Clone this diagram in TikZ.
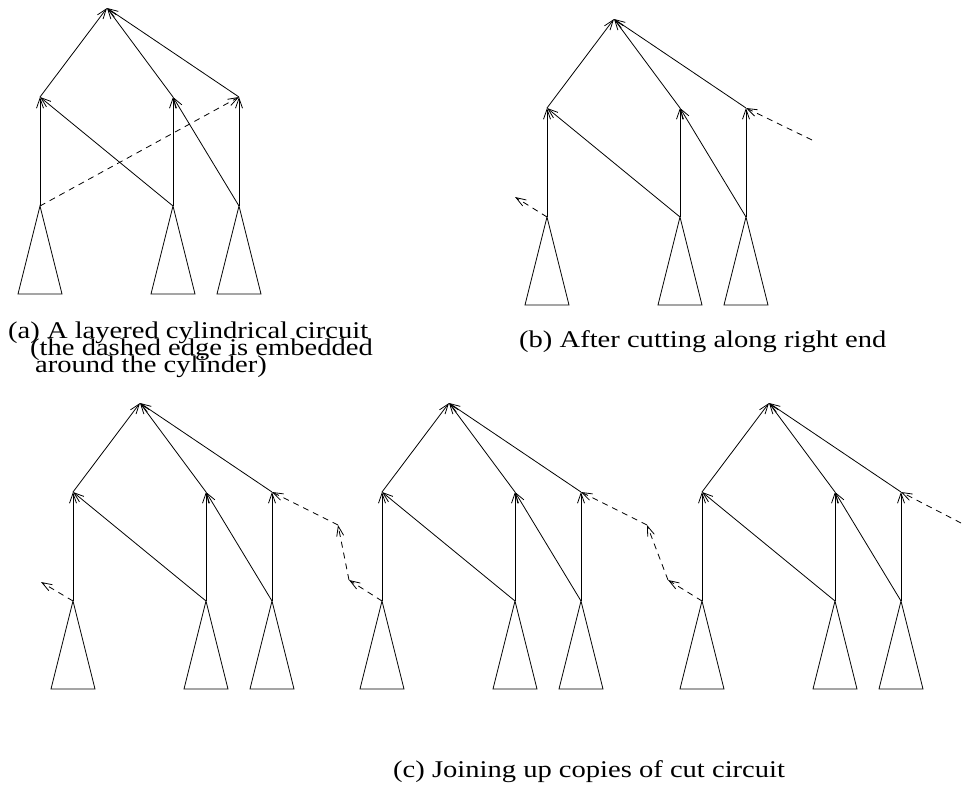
\documentclass[tikz,border=0pt]{standalone}
\usepackage{graphicx}
\usepackage{fontspec}
\setmainfont{Liberation Serif}
\usetikzlibrary{arrows.meta}
\newcommand\widetext[1]{\scalebox{1.19}[1]{#1}}
\tikzset{
  edge/.style={line width=0.8pt, -{Straight Barb[length=10pt,width=7pt]}},
  cutedge/.style={edge, dash pattern=on 6pt off 5pt},
  tri/.style={line width=0.8pt, line join=miter},
  captext/.style={anchor=base west, inner sep=0pt, font=\fontsize{24}{24}\selectfont},
}
\newcommand\mkcircuit[3]{%
  \coordinate (#1-t)  at (#2+67,#3);
  \coordinate (#1-m1) at (#2,#3+89);
  \coordinate (#1-m2) at (#2+133,#3+89);
  \coordinate (#1-m3) at (#2+199,#3+89);
  \coordinate (#1-b1) at (#2,#3+198);
  \coordinate (#1-b2) at (#2+133,#3+198);
  \coordinate (#1-b3) at (#2+199,#3+198);
  \draw[edge] (#1-m1) -- (#1-t);
  \draw[edge] (#1-m2) -- (#1-t);
  \draw[edge] (#1-m3) -- (#1-t);
  \draw[edge] (#1-b1) -- (#1-m1);
  \draw[edge] (#1-b2) -- (#1-m1);
  \draw[edge] (#1-b2) -- (#1-m2);
  \draw[edge] (#1-b3) -- (#1-m2);
  \draw[edge] (#1-b3) -- (#1-m3);
  \draw[tri] (#1-b1) -- ++(-22,88) -- ++(44,0) -- cycle;
  \draw[tri] (#1-b2) -- ++(-22,88) -- ++(44,0) -- cycle;
  \draw[tri] (#1-b3) -- ++(-22,88) -- ++(44,0) -- cycle;
}
\begin{document}
\begin{tikzpicture}[x=1pt,y=-1pt]
\useasboundingbox (0,0) rectangle (963,787);
% (a)
\mkcircuit{a}{40}{8}
\draw[cutedge] (a-b1) -- (a-m3);
\node[captext] (capa1) at (8,338) {\widetext{(a) A layered cylindrical circuit}};
\node[captext] (capa2) at (30,355) {\widetext{(the dashed edge is embedded}};
\node[captext] (capa3) at (35,372) {\widetext{around the cylinder)}};
% (b)
\mkcircuit{b}{547}{19}
\coordinate (bin) at (812,140);
\coordinate (bout) at (515,197);
\draw[cutedge] (bin) -- (b-m3);
\draw[cutedge] (b-b1) -- (bout);
\node[captext] (capb) at (519,347) {\widetext{(b) After cutting along right end}};
% (c)
\mkcircuit{c1}{73}{403}
\mkcircuit{c2}{382}{403}
\mkcircuit{c3}{702}{403}
\coordinate (cout) at (41,582);
\coordinate (j1a) at (338,525);
\coordinate (j1b) at (349,580);
\coordinate (j2a) at (647,525);
\coordinate (j2b) at (668,580);
\coordinate (cin) at (961,523);
\draw[cutedge] (c1-b1) -- (cout);
\draw[cutedge] (j1a) -- (c1-m3);
\draw[cutedge] (j1b) -- (j1a);
\draw[cutedge] (c2-b1) -- (j1b);
\draw[cutedge] (j2a) -- (c2-m3);
\draw[cutedge] (j2b) -- (j2a);
\draw[cutedge] (c3-b1) -- (j2b);
\draw[cutedge] (cin) -- (c3-m3);
\node[captext] (capc) at (393,777) {\widetext{(c) Joining up copies of cut circuit}};
\end{tikzpicture}
\end{document}
